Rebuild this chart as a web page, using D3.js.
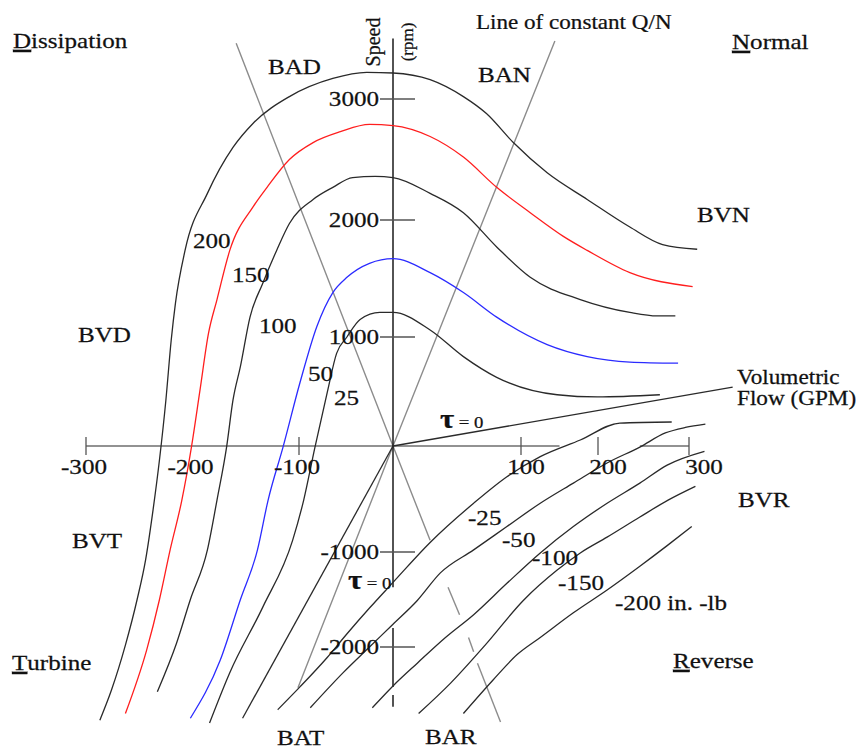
<!DOCTYPE html>
<html>
<head>
<meta charset="utf-8">
<script src="https://cdn.jsdelivr.net/npm/d3@7"></script>
<style>
  body { margin: 0; padding: 0; background: #fff; }
  svg { display: block; font-family: "Liberation Serif", "Times New Roman", serif; }
  text { stroke: #111; stroke-width: 0.25px; }
</style>
</head>
<body>
<svg id="chart" width="859" height="751"></svg>
<script>
// ticks (flow in GPM, speed in rpm)
const flowTicks  = [-300, -100, 100, 200, 300];
const flowLabels = [-300, -200, -100, 100, 200, 300];
const speedTicks = [3000, 2000, 1000, -1000, -2000];

// torque values (in-lb) of the curves
const torquePos = [200, 150, 100, 50, 25];
const torqueNeg = [-25, -50, -100, -150, -200];

// torque curves, positive torque : flow / speed pairs
const flow200  = [-287,-276,-263,-252,-244,-237,-231,-225,-220,-216,-207,-186,-162,-143,-109,-64,-28,0,29,55,73,94,134,186,235,271,309];
const speed200 = [-2770,-2450,-1980,-1500,-1080,-600,-130,420,970,1290,1740,2220,2600,2800,3020,3170,3220,3215,3160,3020,2880,2640,2390,2170,1940,1790,1750];
const flow150  = [-263,-243,-231,-221,-210,-201,-193,-185,-177,-165,-143,-130,-109,-85,-56,-25,0,29,55,81,112,155,186,235,304];
const speed150 = [-2700,-2030,-1500,-980,-510,-10,510,1030,1320,1740,2110,2270,2500,2640,2730,2790,2780,2690,2520,2270,2060,1860,1740,1550,1430];
const flow100  = [-233,-215,-202,-186,-177,-168,-162,-155,-146,-134,-121,-109,-85,-64,-43,-19,0,29,55,81,112,177,235,265,285];
const speed100 = [-2470,-1960,-1500,-980,-510,-10,420,730,1170,1460,1740,1970,2170,2270,2350,2360,2350,2220,2060,1770,1510,1320,1210,1180,1180];
const flow50   = [-202,-174,-155,-139,-129,-115,-99,-81,-64,-49,-25,0,29,55,81,134,186,235,288];
const speed50  = [-2750,-2140,-1500,-980,-510,-10,580,1090,1380,1510,1630,1670,1550,1380,1170,930,820,770,760];
const flow25   = [-184,-165,-134,-106,-95,-83,-70,-60,-49,-35,-14,0,29,55,81,147,199,268];
const speed25  = [-2800,-2270,-1580,-890,-510,-10,490,850,1000,1150,1210,1210,1060,820,630,470,450,470];

// torque curves, negative torque (reverse)
const flowM25   = [-120,-99,-70,-48,-25,0,29,63,89,125,177,224,281];
const speedM25  = [-2660,-2420,-2110,-1850,-1590,-1320,-910,-540,-290,-100,55,210,220];
const flowM50   = [-88,-53,-25,0,19,37,63,89,125,168,210,246,274,296,318];
const speedM50  = [-2640,-2270,-2000,-1760,-1510,-1220,-980,-760,-540,-350,-160,-10,120,170,200];
const flowM100  = [-22,0,19,41,63,89,125,168,210,246,276,317];
const speedM100 = [-2640,-2410,-2170,-1900,-1660,-1330,-1010,-760,-540,-350,-180,-50];
const flowM150  = [20,45,72,103,147,177,210,246,277,307];
const speedM150 = [-2700,-2380,-1980,-1510,-1190,-1010,-860,-670,-510,-380];
const flowM200  = [55,78,97,125,168,210,246,276,303];
const speedM200 = [-2700,-2350,-2080,-1900,-1640,-1400,-1150,-940,-760];

// zero torque lines
const tauZeroNormalFlow  = [0, 348];
const tauZeroNormalSpeed = [0, 540];
const tauZeroTurbFlow    = [0, -153];
const tauZeroTurbSpeed   = [0, -2750];

// lines of constant Q/N
const badBarFlow  = [-159, 0, 29];
const badBarSpeed = [3460, 0, -890];
const barDashFlow  = [[43, 52], [59, 63], [66, 84]];
const barDashSpeed = [[-1370, -1660], [-1900, -2050], [-2170, -2790]];
const banBatFlow  = [144, 0, -101];
const banBatSpeed = [3480, 0, -2430];

// visible pieces of the axes
const flowAxisPieces  = [[-300, 150], [246, 300]];
const speedAxisPieces = [[3500, -1370], [-1800, -2420], [-2505, -2630]];

const svg = d3.select('#chart');

// hand drawn axes are not evenly spaced -> piecewise scales
const x = d3.scaleLinear().domain([-300, -100, 0, 100, 200, 300]).range([86, 299, 393, 521, 598, 689]);
const y = d3.scaleLinear().domain([-2000, -1000, 0, 1000, 2000, 3000]).range([647, 552, 446, 337, 220, 99]);

const pts = (f, s) => f.map((q, i) => [q, s[i]]);
const smooth = d3.line().x(d => x(d[0])).y(d => y(d[1])).curve(d3.curveMonotoneX);
const straight = d3.line().x(d => x(d[0])).y(d => y(d[1]));

// constant Q/N (gray)
const gray = '#8c8c8c';
svg.append('path').attr('d', straight(pts(badBarFlow, badBarSpeed)))
  .attr('fill', 'none').attr('stroke', gray).attr('stroke-width', 1.4);
svg.append('path').attr('d', straight(pts(banBatFlow, banBatSpeed)))
  .attr('fill', 'none').attr('stroke', gray).attr('stroke-width', 1.4);
svg.selectAll('.dash').data(barDashFlow).join('path')
  .attr('class', 'dash')
  .attr('d', (d, i) => straight(pts(d, barDashSpeed[i])))
  .attr('fill', 'none').attr('stroke', gray).attr('stroke-width', 1.4);

// flow axis
svg.selectAll('.fax').data(flowAxisPieces).join('line')
  .attr('class', 'fax')
  .attr('x1', d => x(d[0])).attr('x2', d => x(d[1]))
  .attr('y1', y(0)).attr('y2', y(0))
  .attr('stroke', '#6e6e6e').attr('stroke-width', 1.5);
svg.selectAll('.ftick').data(flowTicks).join('line')
  .attr('class', 'ftick')
  .attr('x1', d => x(d)).attr('x2', d => x(d))
  .attr('y1', y(0) - 9).attr('y2', y(0) + 9)
  .attr('stroke', '#555').attr('stroke-width', 1.3);

// speed axis
svg.selectAll('.sax').data(speedAxisPieces).join('line')
  .attr('class', 'sax')
  .attr('x1', x(0)).attr('x2', x(0))
  .attr('y1', d => y(d[0])).attr('y2', d => y(d[1]))
  .attr('stroke', '#1a1a1a').attr('stroke-width', 1.5);
svg.selectAll('.stick').data(speedTicks).join('line')
  .attr('class', 'stick')
  .attr('x1', x(0) - 13).attr('x2', x(0) + 22)
  .attr('y1', d => y(d)).attr('y2', d => y(d))
  .attr('stroke', '#555').attr('stroke-width', 1.3);

// torque curves
const curves = [
  { f: flow200, s: speed200, c: '#2a2a2a' },
  { f: flow150, s: speed150, c: '#ff1e1e' },
  { f: flow100, s: speed100, c: '#2a2a2a' },
  { f: flow50,  s: speed50,  c: '#2b2bff' },
  { f: flow25,  s: speed25,  c: '#2a2a2a' },
  { f: flowM25,  s: speedM25,  c: '#2a2a2a' },
  { f: flowM50,  s: speedM50,  c: '#2a2a2a' },
  { f: flowM100, s: speedM100, c: '#2a2a2a' },
  { f: flowM150, s: speedM150, c: '#2a2a2a' },
  { f: flowM200, s: speedM200, c: '#2a2a2a' }
];
svg.selectAll('.curve').data(curves).join('path')
  .attr('class', 'curve')
  .attr('d', d => smooth(pts(d.f, d.s)))
  .attr('fill', 'none')
  .attr('stroke', d => d.c)
  .attr('stroke-width', 1.3);

// tau = 0 lines
[[tauZeroNormalFlow, tauZeroNormalSpeed], [tauZeroTurbFlow, tauZeroTurbSpeed]].forEach(l => {
  svg.append('path').attr('d', straight(pts(l[0], l[1])))
    .attr('fill', 'none').attr('stroke', '#2a2a2a').attr('stroke-width', 1.3);
});

// text helper; original lettering is a bit wide, hence scaleX
function label(x0, y0, parts, o = {}) {
  const t = svg.append('text')
    .attr('transform', `translate(${x0},${y0}) scale(${o.sx ?? 1.14},1)`)
    .attr('text-anchor', o.anchor || 'start')
    .attr('font-size', o.size || 22)
    .attr('fill', '#111');
  [].concat(parts).forEach(p => {
    const s = t.append('tspan').text(typeof p === 'string' ? p : p.u);
    if (typeof p !== 'string') s.style('text-decoration', 'underline');
  });
  return t;
}

// tick labels
flowLabels.forEach(v => label(x(v) + (v > 0 ? v / 20 : -2), 474, String(v), { anchor: 'middle' }));
speedTicks.forEach(v => label(x(0) - 14, y(v) + 7, String(v), { anchor: 'end' }));

// axis titles
svg.append('text').attr('transform', 'translate(380,42) rotate(-90)')
  .attr('text-anchor', 'middle').attr('font-size', 20).attr('fill', '#111').text('Speed');
svg.append('text').attr('transform', 'translate(413,42) rotate(-90)')
  .attr('text-anchor', 'middle').attr('font-size', 17).attr('fill', '#111').text('(rpm)');
label(737, 384, 'Volumetric', { size: 20, sx: 1.16 });
label(737, 405, 'Flow (GPM)', { size: 20, sx: 1.16 });
label(476, 29, 'Line of constant Q/N', { size: 21, sx: 1.1 });

// quadrants and regions
label(13, 48, [{ u: 'D' }, 'issipation']);
label(732, 49, [{ u: 'N' }, 'ormal']);
label(12, 670, [{ u: 'T' }, 'urbine']);
label(673, 668, [{ u: 'R' }, 'everse']);
label(268, 74, 'BAD');
label(478, 82, 'BAN');
label(697, 222, 'BVN');
label(78, 342, 'BVD');
label(72, 548, 'BVT');
label(738, 507, 'BVR');
label(277, 745, 'BAT');
label(425, 744, 'BAR');

// curve labels
const posLabelAt = [[193, 248], [232, 282], [259, 333], [308, 381], [334, 405]];
torquePos.forEach((v, i) => label(posLabelAt[i][0], posLabelAt[i][1], String(v)));
const negLabelAt = [[468, 525], [502, 547], [532, 565], [558, 590], [615, 610]];
torqueNeg.forEach((v, i) => label(negLabelAt[i][0], negLabelAt[i][1], v === -200 ? v + ' in. -lb' : String(v)));

function tau(x0, y0) {
  const t = svg.append('text').attr('transform', `translate(${x0},${y0}) scale(1.1,1)`).attr('fill', '#111');
  t.append('tspan').attr('font-size', 28).attr('font-weight', 'bold').text('τ');
  t.append('tspan').attr('font-size', 17).text(' = 0');
}
tau(440, 428);
tau(348, 589);
</script>
</body>
</html>
